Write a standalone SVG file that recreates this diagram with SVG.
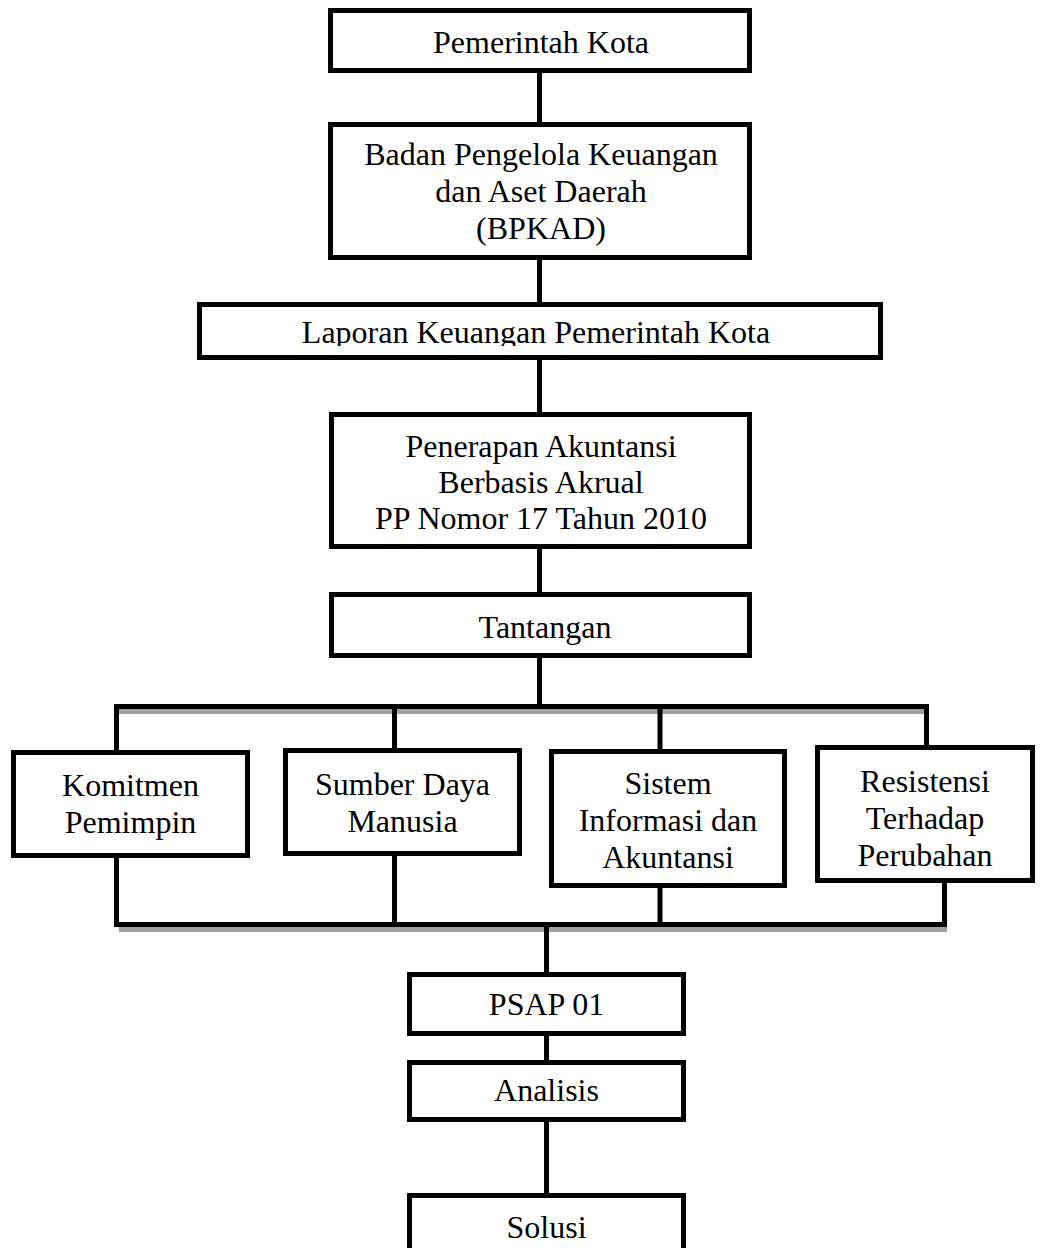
<svg xmlns="http://www.w3.org/2000/svg" width="1043" height="1248" viewBox="0 0 1043 1248">
<style>
  .box { fill: #ffffff; stroke: #000000; stroke-width: 5; }
  .t { font-family: "Liberation Serif", "Times New Roman", serif; font-size: 32px; fill: #000000; text-anchor: middle; }
  .c { stroke: #000000; stroke-width: 5; fill: none; }
  .sh { stroke: #a0a0a0; stroke-width: 5; fill: none; }
</style>
<defs>
  <clipPath id="clipLap"><rect x="200" y="306" width="680" height="40"/></clipPath>
</defs>
<rect x="0" y="0" width="1043" height="1248" fill="#ffffff"/>
<g id="connectors">
  <line class="c" x1="539.5" y1="73" x2="539.5" y2="122"/>
  <line class="c" x1="539.5" y1="260" x2="539.5" y2="302"/>
  <line class="c" x1="539.5" y1="360" x2="539.5" y2="412"/>
  <line class="c" x1="539.5" y1="549" x2="539.5" y2="592"/>
  <line class="c" x1="539.5" y1="658" x2="539.5" y2="706"/>
  <line class="sh" x1="119" y1="711.5" x2="929" y2="711.5"/>
  <line class="c" x1="114" y1="706.5" x2="929" y2="706.5"/>
  <line class="c" x1="116.5" y1="704" x2="116.5" y2="750"/>
  <line class="c" x1="394.5" y1="704" x2="394.5" y2="748"/>
  <line class="c" x1="660" y1="704" x2="660" y2="749"/>
  <line class="c" x1="926.5" y1="704" x2="926.5" y2="745"/>
  <line class="c" x1="116.5" y1="858" x2="116.5" y2="927"/>
  <line class="c" x1="394.5" y1="856" x2="394.5" y2="927"/>
  <line class="c" x1="660" y1="888" x2="660" y2="927"/>
  <line class="c" x1="944.5" y1="883" x2="944.5" y2="927"/>
  <line class="sh" x1="119" y1="929.5" x2="947" y2="929.5"/>
  <line class="c" x1="114" y1="924.5" x2="947" y2="924.5"/>
  <line class="c" x1="546.5" y1="927" x2="546.5" y2="972"/>
  <line class="c" x1="546.5" y1="1036" x2="546.5" y2="1060"/>
  <line class="c" x1="546.5" y1="1122" x2="546.5" y2="1193"/>
</g>
<g id="node-pemerintah">
  <rect class="box" x="330.5" y="10.5" width="419" height="60"/>
  <text class="t" x="541" y="53">Pemerintah Kota</text>
</g>
<g id="node-bpkad">
  <rect class="box" x="330.5" y="124.5" width="419" height="133"/>
  <text class="t" x="541" y="165">Badan Pengelola Keuangan</text>
  <text class="t" x="541" y="202">dan Aset Daerah</text>
  <text class="t" x="541" y="239">(BPKAD)</text>
</g>
<g id="node-laporan">
  <rect class="box" x="199.5" y="304.5" width="681" height="53"/>
  <text class="t" x="536" y="343" clip-path="url(#clipLap)">Laporan Keuangan Pemerintah Kota</text>
</g>
<g id="node-penerapan">
  <rect class="box" x="331.5" y="414.5" width="418" height="132"/>
  <text class="t" x="541" y="457">Penerapan Akuntansi</text>
  <text class="t" x="541" y="493">Berbasis Akrual</text>
  <text class="t" x="541" y="529">PP Nomor 17 Tahun 2010</text>
</g>
<g id="node-tantangan">
  <rect class="box" x="331.5" y="594.5" width="418" height="61"/>
  <text class="t" x="545" y="638">Tantangan</text>
</g>
<g id="node-komitmen">
  <rect class="box" x="13.5" y="752.5" width="234" height="103"/>
  <text class="t" x="130.5" y="796">Komitmen</text>
  <text class="t" x="130.5" y="833">Pemimpin</text>
</g>
<g id="node-sdm">
  <rect class="box" x="285.5" y="750.5" width="234" height="103"/>
  <text class="t" x="402.5" y="795">Sumber Daya</text>
  <text class="t" x="402.5" y="832">Manusia</text>
</g>
<g id="node-sistem">
  <rect class="box" x="551.5" y="751.5" width="233" height="134"/>
  <text class="t" x="668" y="794">Sistem</text>
  <text class="t" x="668" y="831">Informasi dan</text>
  <text class="t" x="668" y="868">Akuntansi</text>
</g>
<g id="node-resistensi">
  <rect class="box" x="817.5" y="747.5" width="215" height="133"/>
  <text class="t" x="925" y="792">Resistensi</text>
  <text class="t" x="925" y="829">Terhadap</text>
  <text class="t" x="925" y="866">Perubahan</text>
</g>
<g id="node-psap">
  <rect class="box" x="409.5" y="974.5" width="274" height="59"/>
  <text class="t" x="546.5" y="1015">PSAP 01</text>
</g>
<g id="node-analisis">
  <rect class="box" x="409.5" y="1062.5" width="274" height="57"/>
  <text class="t" x="546.5" y="1101">Analisis</text>
</g>
<g id="node-solusi">
  <rect class="box" x="409.5" y="1195.5" width="274" height="70"/>
  <text class="t" x="546.5" y="1238">Solusi</text>
</g>
</svg>
